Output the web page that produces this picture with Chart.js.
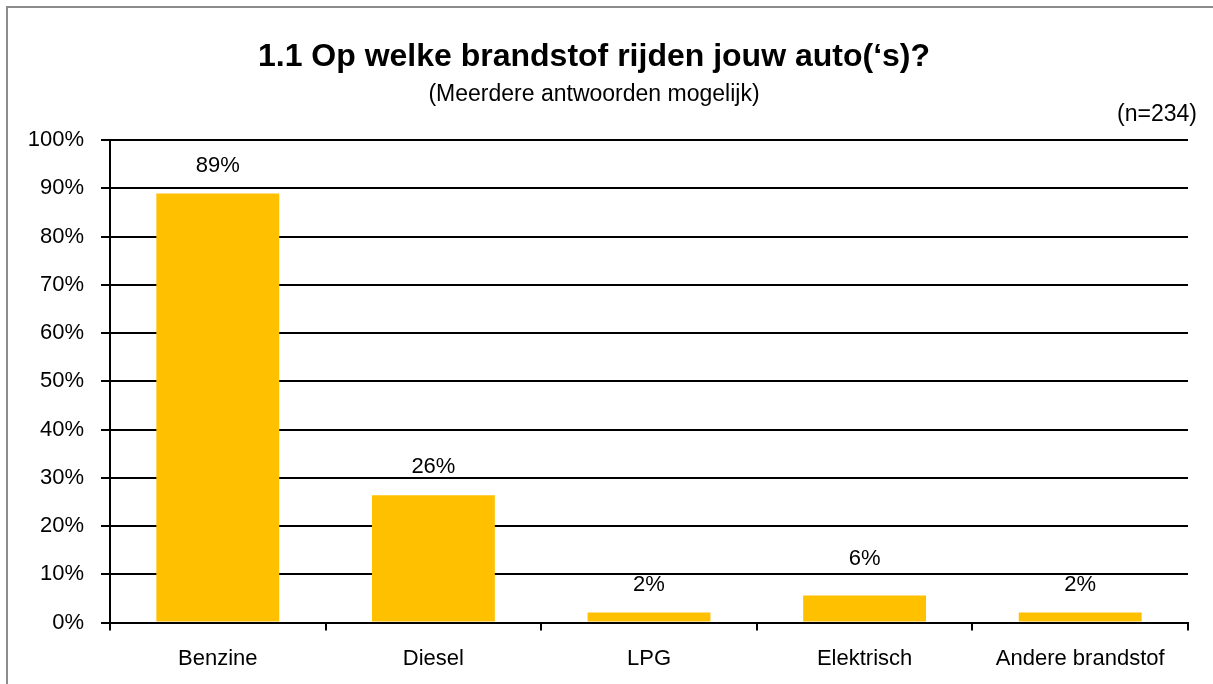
<!DOCTYPE html>
<html>
<head>
<meta charset="utf-8">
<script src="https://cdn.jsdelivr.net/npm/chart.js@4/dist/chart.umd.min.js"></script>
<style>
  html, body { margin: 0; padding: 0; background: #fff; }
  #frame { position: absolute; left: 6px; top: 6px; width: 1300px; height: 800px;
           border-left: 2px solid #8c8c8c; border-top: 2px solid #8c8c8c; }
  #userChart { position: absolute; left: 0; top: 0; }
</style>
</head>
<body>
<div id="frame"></div>
<canvas id="userChart" width="1213" height="684"></canvas>
<script>
// Data uit de grafiek
const categories = ['Benzine', 'Diesel', 'LPG', 'Elektrisch', 'Andere brandstof'];
const percentages = [88.9, 26.4, 2.1, 5.6, 2.1];
const yTicks = [0, 10, 20, 30, 40, 50, 60, 70, 80, 90, 100];
const sampleNote = '(n=234)';

const fontFamily = "'Liberation Sans', Arial, sans-serif";

// Plugin voor de percentages boven de balken en de (n=234)
const labelPlugin = {
    id: 'barLabels',
    afterDatasetsDraw(chart) {
        const ctx = chart.ctx;
        const meta = chart.getDatasetMeta(0);
        const yScale = chart.scales.y;
        ctx.save();
        ctx.fillStyle = '#000';
        ctx.font = '22px ' + fontFamily;
        ctx.textAlign = 'center';
        ctx.textBaseline = 'middle';
        meta.data.forEach(function(bar, i) {
            let y = bar.y - 28;
            // label niet over een rasterlijn laten vallen
            yTicks.forEach(function(t) {
                const gy = yScale.getPixelForValue(t);
                if (Math.abs(gy - y) < 9) y = gy - 15;
            });
            ctx.fillText(Math.round(percentages[i]) + '%', bar.x, y);
        });
        ctx.font = '23px ' + fontFamily;
        ctx.textAlign = 'right';
        ctx.fillText(sampleNote, 1197, 115);
        ctx.restore();
    }
};

const ctx = document.getElementById('userChart').getContext('2d');
new Chart(ctx, {
    type: 'bar',
    data: {
        labels: categories,
        datasets: [{
            data: percentages,
            backgroundColor: '#FFC000',
            borderWidth: 0,
            barPercentage: 0.57,
            categoryPercentage: 1
        }]
    },
    options: {
        responsive: false,
        animation: false,
        layout: { padding: { left: 0, right: 25, top: 0, bottom: -3 } },
        plugins: {
            legend: { display: false },
            tooltip: { enabled: false },
            title: {
                display: true,
                text: "1.1 Op welke brandstof rijden jouw auto(\u2018s)?",
                color: '#000',
                font: { family: fontFamily, size: 32, weight: 'bold' },
                padding: { top: 38, bottom: 4 }
            },
            subtitle: {
                display: true,
                text: '(Meerdere antwoorden mogelijk)',
                color: '#000',
                font: { family: fontFamily, size: 23 },
                padding: { top: 0, bottom: 32 }
            }
        },
        scales: {
            x: {
                offset: true,
                grid: {
                    offset: true,
                    drawOnChartArea: false,
                    drawTicks: true,
                    tickLength: 8,
                    color: '#000',
                    lineWidth: 2
                },
                border: { color: '#000', width: 2 },
                ticks: {
                    color: '#000',
                    font: { family: fontFamily, size: 22 },
                    padding: 15,
                    maxRotation: 0
                }
            },
            y: {
                min: 0,
                max: 100,
                afterFit: function(scale) { scale.width = 110; },
                afterBuildTicks: function(scale) {
                    scale.ticks = yTicks.map(function(v) { return { value: v }; });
                },
                grid: {
                    color: '#000',
                    lineWidth: 2,
                    tickLength: 9
                },
                border: { color: '#000', width: 2 },
                ticks: {
                    color: '#000',
                    font: { family: fontFamily, size: 22 },
                    padding: 17,
                    callback: function(v) { return v + '%'; }
                }
            }
        }
    },
    plugins: [labelPlugin]
});
</script>
</body>
</html>
